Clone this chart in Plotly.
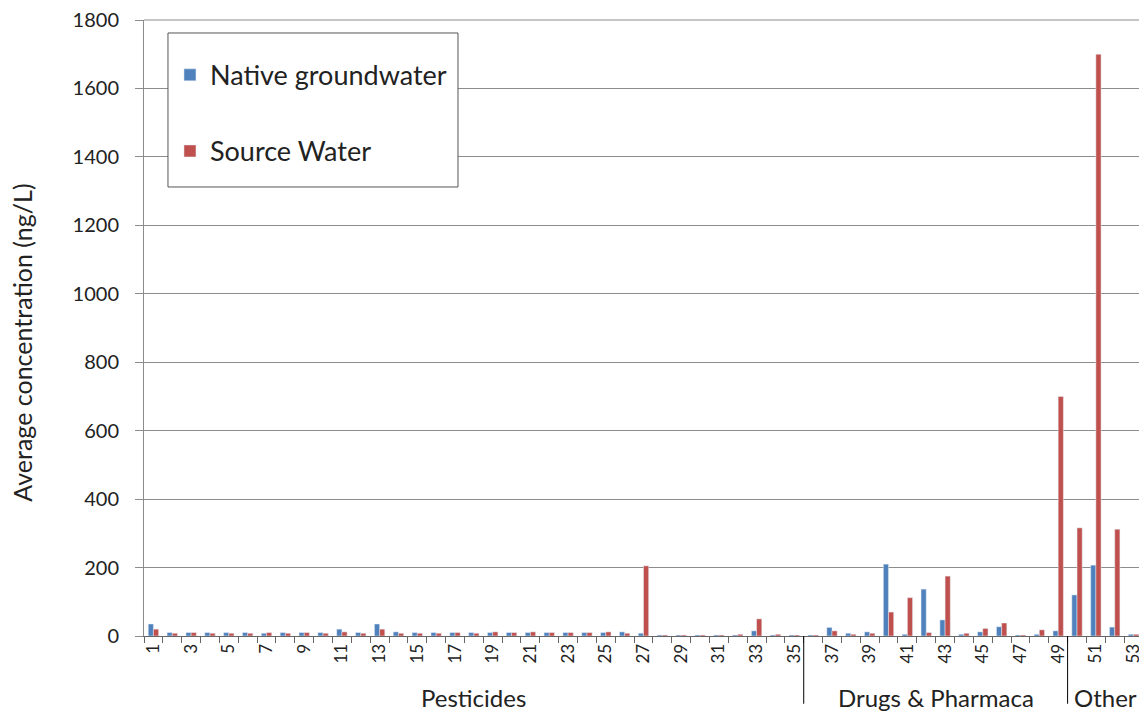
import plotly.graph_objects as go

categories = list(range(1, 54))
native_groundwater = [35, 10, 10, 10, 10, 10, 8, 10, 10, 10,
                      20, 10, 35, 12, 10, 10, 10, 10, 10, 10,
                      10, 10, 10, 10, 10, 12, 8, 3, 3, 3,
                      3, 3, 15, 3, 3, 3, 25, 8, 12, 210,
                      5, 137, 47, 5, 12, 27, 3, 5, 15, 120,
                      207, 26, 5]
source_water = [20, 8, 10, 8, 8, 8, 10, 8, 10, 8,
                12, 8, 20, 8, 8, 8, 10, 8, 12, 10,
                12, 10, 10, 10, 12, 8, 205, 3, 3, 3,
                3, 5, 50, 5, 3, 3, 15, 5, 8, 70,
                112, 10, 175, 8, 22, 38, 3, 18, 700, 316,
                1700, 312, 5]
y_ticks = [0, 200, 400, 600, 800, 1000, 1200, 1400, 1600, 1800]
tick_labels = [str(c) for c in categories if c % 2 == 1]
tick_vals = [c for c in categories if c % 2 == 1]
groups = [("Pesticides", 1, 35), ("Drugs & Pharmaca", 36, 49), ("Other", 50, 53)]

FONT = "Lato, Open Sans, sans-serif"

fig = go.Figure()
fig.add_trace(go.Bar(x=categories, y=native_groundwater, name="Native groundwater",
                     marker_color="#4F81BD", legendgroup="a"))
fig.add_trace(go.Bar(x=categories, y=source_water, name="Source Water",
                     marker_color="#C0504D", legendgroup="b"))

shapes = [dict(type="rect", xref="paper", yref="paper", x0=0.024, x1=0.3143,
               y0=0.7289, y1=0.9789, fillcolor="white",
               line=dict(color="#555555", width=1), layer="above"),
          dict(type="line", xref="paper", yref="paper", x0=0, x1=1, y0=1, y1=1,
               line=dict(color="#8c8c8c", width=1), layer="below")]
for name, a, b in groups[:-1]:
    shapes.append(dict(type="line", xref="x", yref="paper", x0=b + 0.5, x1=b + 0.5,
                       y0=0, y1=-0.11, line=dict(color="#000000", width=1)))
annotations = []
for name, a, b in groups:
    annotations.append(dict(text=name, x=(a + b) / 2, xref="x", y=-0.1, yref="paper",
                            showarrow=False, yanchor="middle",
                            font=dict(size=24, color="#222222", family=FONT)))
annotations.append(dict(text="Average concentration (ng/L)", textangle=-90,
                        x=-0.1225, xref="paper", y=0.4756, yref="paper",
                        xanchor="center", yanchor="middle", showarrow=False,
                        font=dict(size=25, color="#222222", family=FONT)))

fig.update_layout(
    width=1139, height=708,
    margin=dict(l=136, r=4, t=12, b=80, autoexpand=False),
    paper_bgcolor="white", plot_bgcolor="white",
    barmode="group", bargap=0.45, bargroupgap=0,
    font=dict(family=FONT, color="#222222"),
    showlegend=True,
    legend=dict(x=0.026, y=0.95, xanchor="left", yanchor="top",
                bgcolor="rgba(0,0,0,0)", borderwidth=0,
                font=dict(size=27, color="#222222", family=FONT),
                traceorder="grouped", tracegroupgap=38,
                itemwidth=30),
    shapes=shapes,
    annotations=annotations,
    xaxis=dict(range=[0.5, 53.5], tickmode="array", tickvals=tick_vals, ticktext=tick_labels,
               tickangle=-90, ticks="", showgrid=False, showline=True,
               linecolor="#666666", linewidth=1, automargin=False,
               tickfont=dict(size=17, color="#222222", family=FONT),
               minor=dict(ticks="outside", tick0=0.5, dtick=1, ticklen=6,
                          tickcolor="#666666", showgrid=False),
               zeroline=False),
    yaxis=dict(range=[0, 1800], tickmode="array", tickvals=y_ticks,
               showgrid=True, gridcolor="#8c8c8c", gridwidth=1, automargin=False,
               showline=True, linecolor="#8c8c8c", ticks="outside", ticklen=8,
               tickcolor="#8c8c8c", zeroline=False, ticklabelstandoff=12,
               ticklabeloverflow="allow",
               tickfont=dict(size=20, color="#222222", family=FONT)),
)

fig.write_html("out.html")
